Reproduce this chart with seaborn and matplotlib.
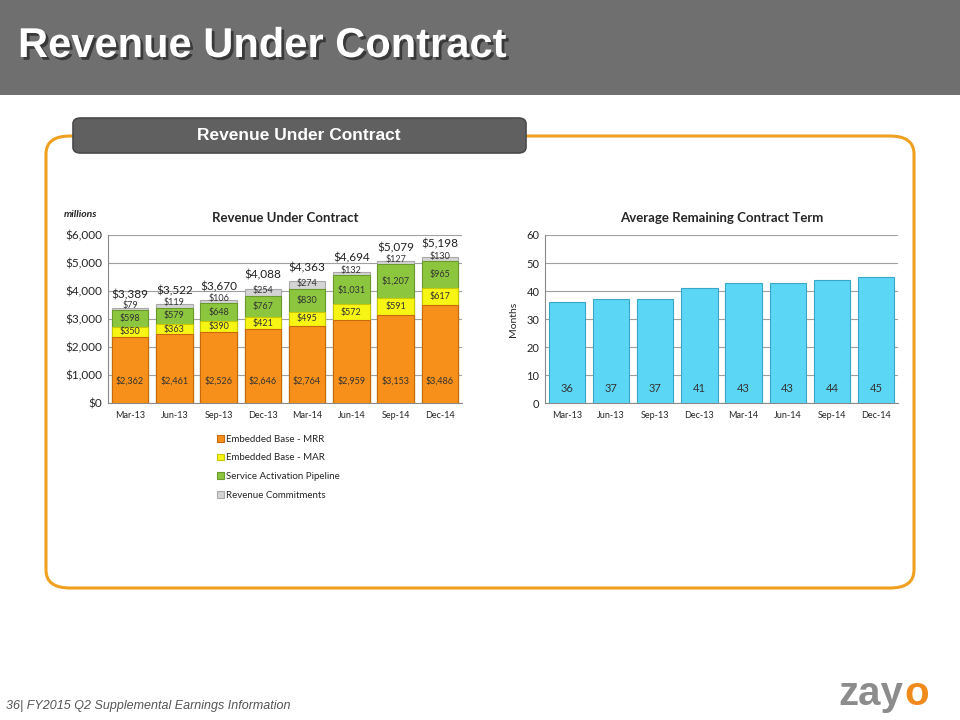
import numpy as np
import pandas as pd
import matplotlib
matplotlib.use('Agg')
import matplotlib.pyplot as plt
import matplotlib.patheffects as pe
from matplotlib.patches import FancyBboxPatch, Rectangle
import seaborn as sns

sns.set_style('white')
plt.rcParams['font.family'] = ['Lato', 'DejaVu Sans']

# data
quarters = ['Mar-13', 'Jun-13', 'Sep-13', 'Dec-13', 'Mar-14', 'Jun-14', 'Sep-14', 'Dec-14']
mrr = [2362, 2461, 2526, 2646, 2764, 2959, 3153, 3486]
mar = [350, 363, 390, 421, 495, 572, 591, 617]
pipeline = [598, 579, 648, 767, 830, 1031, 1207, 965]
commit = [79, 119, 106, 254, 274, 132, 127, 130]
totals = [3389, 3522, 3670, 4088, 4363, 4694, 5079, 5198]
months = [36, 37, 37, 41, 43, 43, 44, 45]

series_names = ['Embedded Base - MRR', 'Embedded Base - MAR',
                'Service Activation Pipeline', 'Revenue Commitments']
colors = ['#F7901A', '#F7F514', '#8CC63E', '#D4D4D4']
edges = ['#C8690A', '#C8C800', '#6A9A2C', '#A8A8A8']

df = pd.DataFrame({'q': quarters, 'mrr': mrr, 'mar': mar, 'pipe': pipeline, 'rc': commit})
df['c1'] = df['mrr']
df['c2'] = df['c1'] + df['mar']
df['c3'] = df['c2'] + df['pipe']
df['c4'] = df['c3'] + df['rc']

fig = plt.figure(figsize=(9.6, 7.2), dpi=100)
fig.patch.set_facecolor('white')

# header band
fig.add_artist(Rectangle((0, 1 - 95 / 720), 1, 95 / 720, transform=fig.transFigure,
                         facecolor='#6F6F6F', edgecolor='none', zorder=-5))
fig.text(18 / 960, 1 - 46 / 720, 'Revenue Under Contract', color='white',
         fontsize=30, fontweight='heavy', family='Liberation Sans', va='center', ha='left',
         path_effects=[pe.withSimplePatchShadow(offset=(2, -2), shadow_rgbFace='#333333', alpha=0.9)])

# orange rounded frame
fig.add_artist(FancyBboxPatch((46 / 960, 1 - 588 / 720), (914 - 46) / 960, (588 - 136) / 720,
                              boxstyle='round,pad=0,rounding_size=0.025', transform=fig.transFigure,
                              facecolor='none', edgecolor='#F0A020', linewidth=2.2, zorder=-4))
# pill label
fig.add_artist(FancyBboxPatch((73 / 960, 1 - 153 / 720), (526 - 73) / 960, (153 - 118) / 720,
                              boxstyle='round,pad=0,rounding_size=0.008', transform=fig.transFigure,
                              facecolor='#606060', edgecolor='#4A4A4A', linewidth=1.2, zorder=-3))
fig.text(299 / 960, 1 - 135 / 720, 'Revenue Under Contract', color='white', fontsize=12.5,
         fontweight='bold', family='Liberation Sans', ha='center', va='center')

# left chart: stacked bars drawn as overlapping cumulative bars
ax1 = fig.add_axes([108 / 960, 1 - 403 / 720, (462 - 108) / 960, (403 - 235) / 720])
ax1.patch.set_alpha(0)
for col, c, e, name in zip(['c4', 'c3', 'c2', 'c1'], colors[::-1], edges[::-1], series_names[::-1]):
    sns.barplot(data=df, x='q', y=col, color=c, ax=ax1, width=0.82,
                edgecolor=e, linewidth=0.8, label=name, saturation=1, zorder=3)

ax1.set_ylim(0, 6000)
ax1.set_yticks(range(0, 6001, 1000))
ax1.set_yticklabels(['$' + format(v, ',') for v in range(0, 6001, 1000)], fontsize=8.5)
ax1.set_xlabel('')
ax1.set_ylabel('')
ax1.tick_params(axis='x', labelsize=6.5, length=0, pad=6)
ax1.tick_params(axis='y', length=0, pad=4)
ax1.yaxis.grid(True, color='#A0A0A0', linewidth=0.8, zorder=0)
ax1.set_axisbelow(True)
for s in ['top', 'right']:
    ax1.spines[s].set_visible(False)
for s in ['left', 'bottom']:
    ax1.spines[s].set_color('#8A8A8A')
ax1.set_title('Revenue Under Contract', fontsize=9.5, fontweight='bold', pad=9)
fig.text(64 / 960, 1 - 217 / 720, 'millions', fontsize=7.5, fontweight='bold', style='italic')

for i in range(len(quarters)):
    ax1.text(i, 800, '$' + format(mrr[i], ','), ha='center', va='center', fontsize=6.5, color='#333333')
    ax1.text(i, df['c1'][i] + mar[i] / 2, '$' + format(mar[i], ','), ha='center', va='center',
             fontsize=6.5, color='#333333')
    ax1.text(i, df['c2'][i] + pipeline[i] / 2, '$' + format(pipeline[i], ','), ha='center',
             va='center', fontsize=6.5, color='#333333')
    ax1.text(i, df['c3'][i] + 20, '$' + format(commit[i], ','),
             ha='center', va='bottom', fontsize=6.5, color='#333333')
    ax1.text(i, totals[i] + 280, '$' + format(totals[i], ','), ha='center', va='bottom',
             fontsize=8.5, color='#222222')

handles, labels = ax1.get_legend_handles_labels()
ax1.legend(handles[::-1], labels[::-1], loc='upper left', bbox_to_anchor=(208 / 960, 1 - 426 / 720),
           bbox_transform=fig.transFigure, frameon=False, fontsize=7, handlelength=0.7,
           handleheight=0.7, handletextpad=0.3, labelspacing=1.0)

# right chart
ax2 = fig.add_axes([545 / 960, 1 - 403 / 720, (898 - 545) / 960, (403 - 235) / 720])
ax2.patch.set_alpha(0)
mdf = pd.DataFrame({'q': quarters, 'm': months})
sns.barplot(data=mdf, x='q', y='m', color='#5CD6F5', edgecolor='#3AA6C8', linewidth=0.8,
            width=0.82, saturation=1, ax=ax2, zorder=3)
ax2.set_ylim(0, 60)
ax2.set_yticks(range(0, 61, 10))
ax2.tick_params(axis='y', labelsize=8, length=0, pad=4)
ax2.tick_params(axis='x', labelsize=6.5, length=0, pad=6)
ax2.set_xlabel('')
ax2.set_ylabel('Months', fontsize=7.5, labelpad=6)
ax2.yaxis.grid(True, color='#A0A0A0', linewidth=0.8, zorder=0)
ax2.set_axisbelow(True)
for s in ['top', 'right']:
    ax2.spines[s].set_visible(False)
for s in ['left', 'bottom']:
    ax2.spines[s].set_color('#8A8A8A')
ax2.set_title('Average Remaining Contract Term', fontsize=9.5, fontweight='bold', pad=9)
for i, m in enumerate(months):
    ax2.text(i, 5, str(m), ha='center', va='center', fontsize=8, color='#333333')

# footer
fig.text(6 / 960, 1 - 706 / 720, '36| FY2015 Q2 Supplemental Earnings Information', fontsize=9,
         style='italic', color='#555555', family='Liberation Sans', va='center')
fig.text(838 / 960, 1 - 694 / 720, 'zay', fontsize=29, fontweight='bold', color='#8C8C8C',
         family='Liberation Sans', va='center', ha='left')
fig.text(904 / 960, 1 - 694 / 720, 'o', fontsize=29, fontweight='bold', color='#F08A1C',
         family='Liberation Sans', va='center', ha='left')

fig.savefig('out.png', dpi=100)
